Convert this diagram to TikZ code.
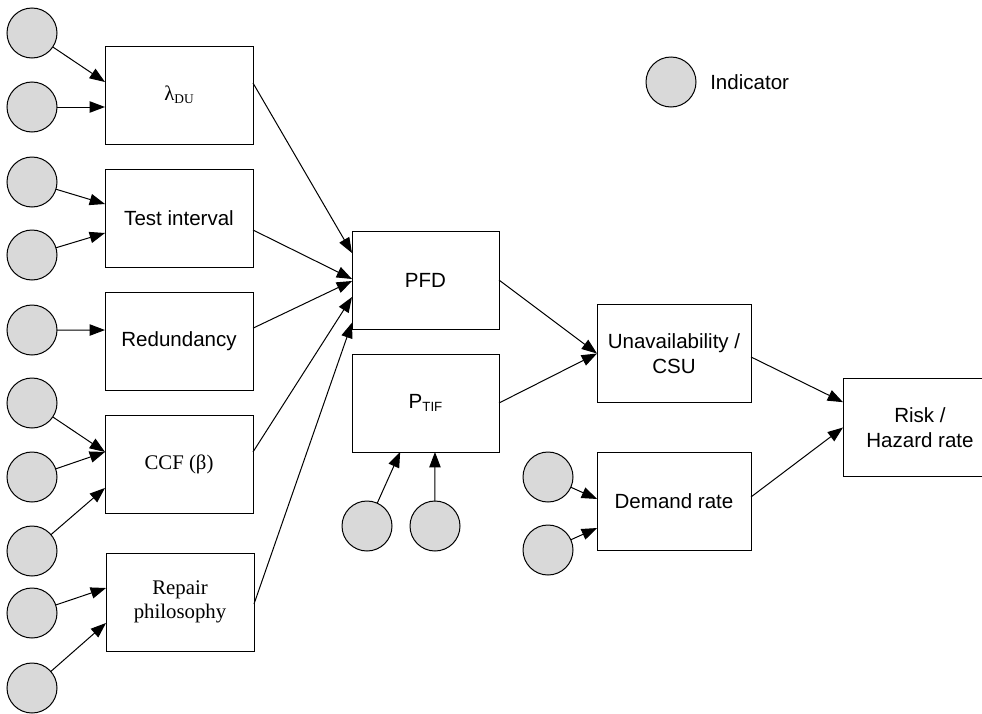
\documentclass[tikz,border=0pt]{standalone}
\usepackage{fontspec}
\setmainfont{Liberation Serif}
\setsansfont{Liberation Sans}
\usetikzlibrary{arrows.meta}
\definecolor{indfill}{RGB}{217,217,217}
\begin{document}
\begin{tikzpicture}[x=0.75pt,y=-0.75pt,
  box/.style={draw, line width=0.75pt, minimum width=111pt, minimum height=73.5pt,
    inner sep=0pt, outer sep=0pt, align=center,
    font=\sffamily\fontsize{15.4}{18.75}\selectfont},
  serifbox/.style={box, font=\rmfamily\fontsize{15.6}{19.5}\selectfont},
  widebox/.style={box, minimum width=115.5pt},
  ind/.style={circle, draw, line width=0.75pt, fill=indfill, minimum size=37.5pt,
    inner sep=0pt, outer sep=0pt},
  arr/.style={-{Triangle[length=11.5pt,width=8.5pt]}, line width=0.75pt}
]
\useasboundingbox (0,0) rectangle (982,714);

% parameter boxes
\node[serifbox] (lam)  at (179,95)    {λ\raisebox{-2pt}{\fontsize{10}{10}\selectfont DU}};
\node[box]      (test) at (179,218)   {Test interval};
\node[box]      (red)  at (179,341.5) {Redundancy};
\node[serifbox] (ccf)  at (179,464.5) {CCF (β)};
\node[serifbox] (rep)  at (180,602)   {\raisebox{-2pt}{Repair}\\philosophy};

% intermediate measures
\node[box, minimum width=110.25pt] (pfd)  at (425.5,280) {PFD};
\node[box, minimum width=110.25pt] (ptif) at (425.5,403)
  {P\raisebox{-2pt}{\fontsize{10}{10}\selectfont TIF}};
\node[widebox] (unav) at (674,353.5) {Unavailability /\\CSU};
\node[widebox] (dem)  at (674,501.5) {Demand rate};
\node[widebox] (risk) at (920,427.5) {Risk /\\Hazard rate};

% indicators, left column
\node[ind] (i1)  at (32,33)  {};
\node[ind] (i2)  at (32,107) {};
\node[ind] (i3)  at (32,182) {};
\node[ind] (i4)  at (32,255) {};
\node[ind] (i5)  at (32,330) {};
\node[ind] (i6)  at (32,403) {};
\node[ind] (i7)  at (32,477) {};
\node[ind] (i8)  at (32,551) {};
\node[ind] (i9)  at (32,613) {};
\node[ind] (i10) at (32,688) {};

% indicators below P_TIF and beside demand rate
\node[ind] (t1) at (367,526) {};
\node[ind] (t2) at (435,526) {};
\node[ind] (d1) at (548,477) {};
\node[ind] (d2) at (548,550) {};

% legend
\node[ind] (leg) at (671,82) {};
\node[anchor=west, inner sep=0pt, font=\sffamily\fontsize{15.4}{18.75}\selectfont]
  (legtext) at (710,82) {Indicator};

% indicator arrows
\draw[arr] (i1)  -- ([yshift=9.75pt]lam.west);
\draw[arr] (i2)  -- ([yshift=-9pt]lam.west);
\draw[arr] (i3)  -- ([yshift=10.5pt]test.west);
\draw[arr] (i4)  -- ([yshift=-11.25pt]test.west);
\draw[arr] (i5)  -- ([yshift=8.6pt]red.west);
\draw[arr] (i6)  -- ([yshift=9.4pt]ccf.west);
\draw[arr] (i7)  -- ([yshift=9.4pt]ccf.west);
\draw[arr] (i8)  -- ([yshift=-17.6pt]ccf.west);
\draw[arr] (i9)  -- ([yshift=10.5pt]rep.west);
\draw[arr] (i10) -- ([yshift=-15.75pt]rep.west);
\draw[arr] (t1) -- ([xshift=-19pt]ptif.south);
\draw[arr] (t2) -- ([xshift=7.1pt]ptif.south);
\draw[arr] (d1) -- ([yshift=1.9pt]dem.west);
\draw[arr] (d2) -- ([yshift=-19.9pt]dem.west);

% parameters into PFD
\draw[arr] ([yshift=9pt]lam.east)   -- ([yshift=20.25pt]pfd.west);
\draw[arr] ([yshift=-9pt]test.east) -- ([yshift=0.75pt]pfd.west);
\draw[arr] ([yshift=10pt]red.east)  -- ([yshift=-0.75pt]pfd.west);
\draw[arr] ([yshift=9.4pt]ccf.east) -- ([yshift=-12.75pt]pfd.west);
\draw[arr] ([yshift=-1.5pt]rep.east) -- ([yshift=-32pt]pfd.west);

% measures into unavailability and risk
\draw[arr] (pfd.east)  -- (unav.west);
\draw[arr] (ptif.east) -- (unav.west);
\draw[arr] ([yshift=-2.6pt]unav.east) -- ([yshift=19pt]risk.west);
\draw[arr] ([yshift=3.4pt]dem.east)   -- (risk.west);
\end{tikzpicture}
\end{document}
